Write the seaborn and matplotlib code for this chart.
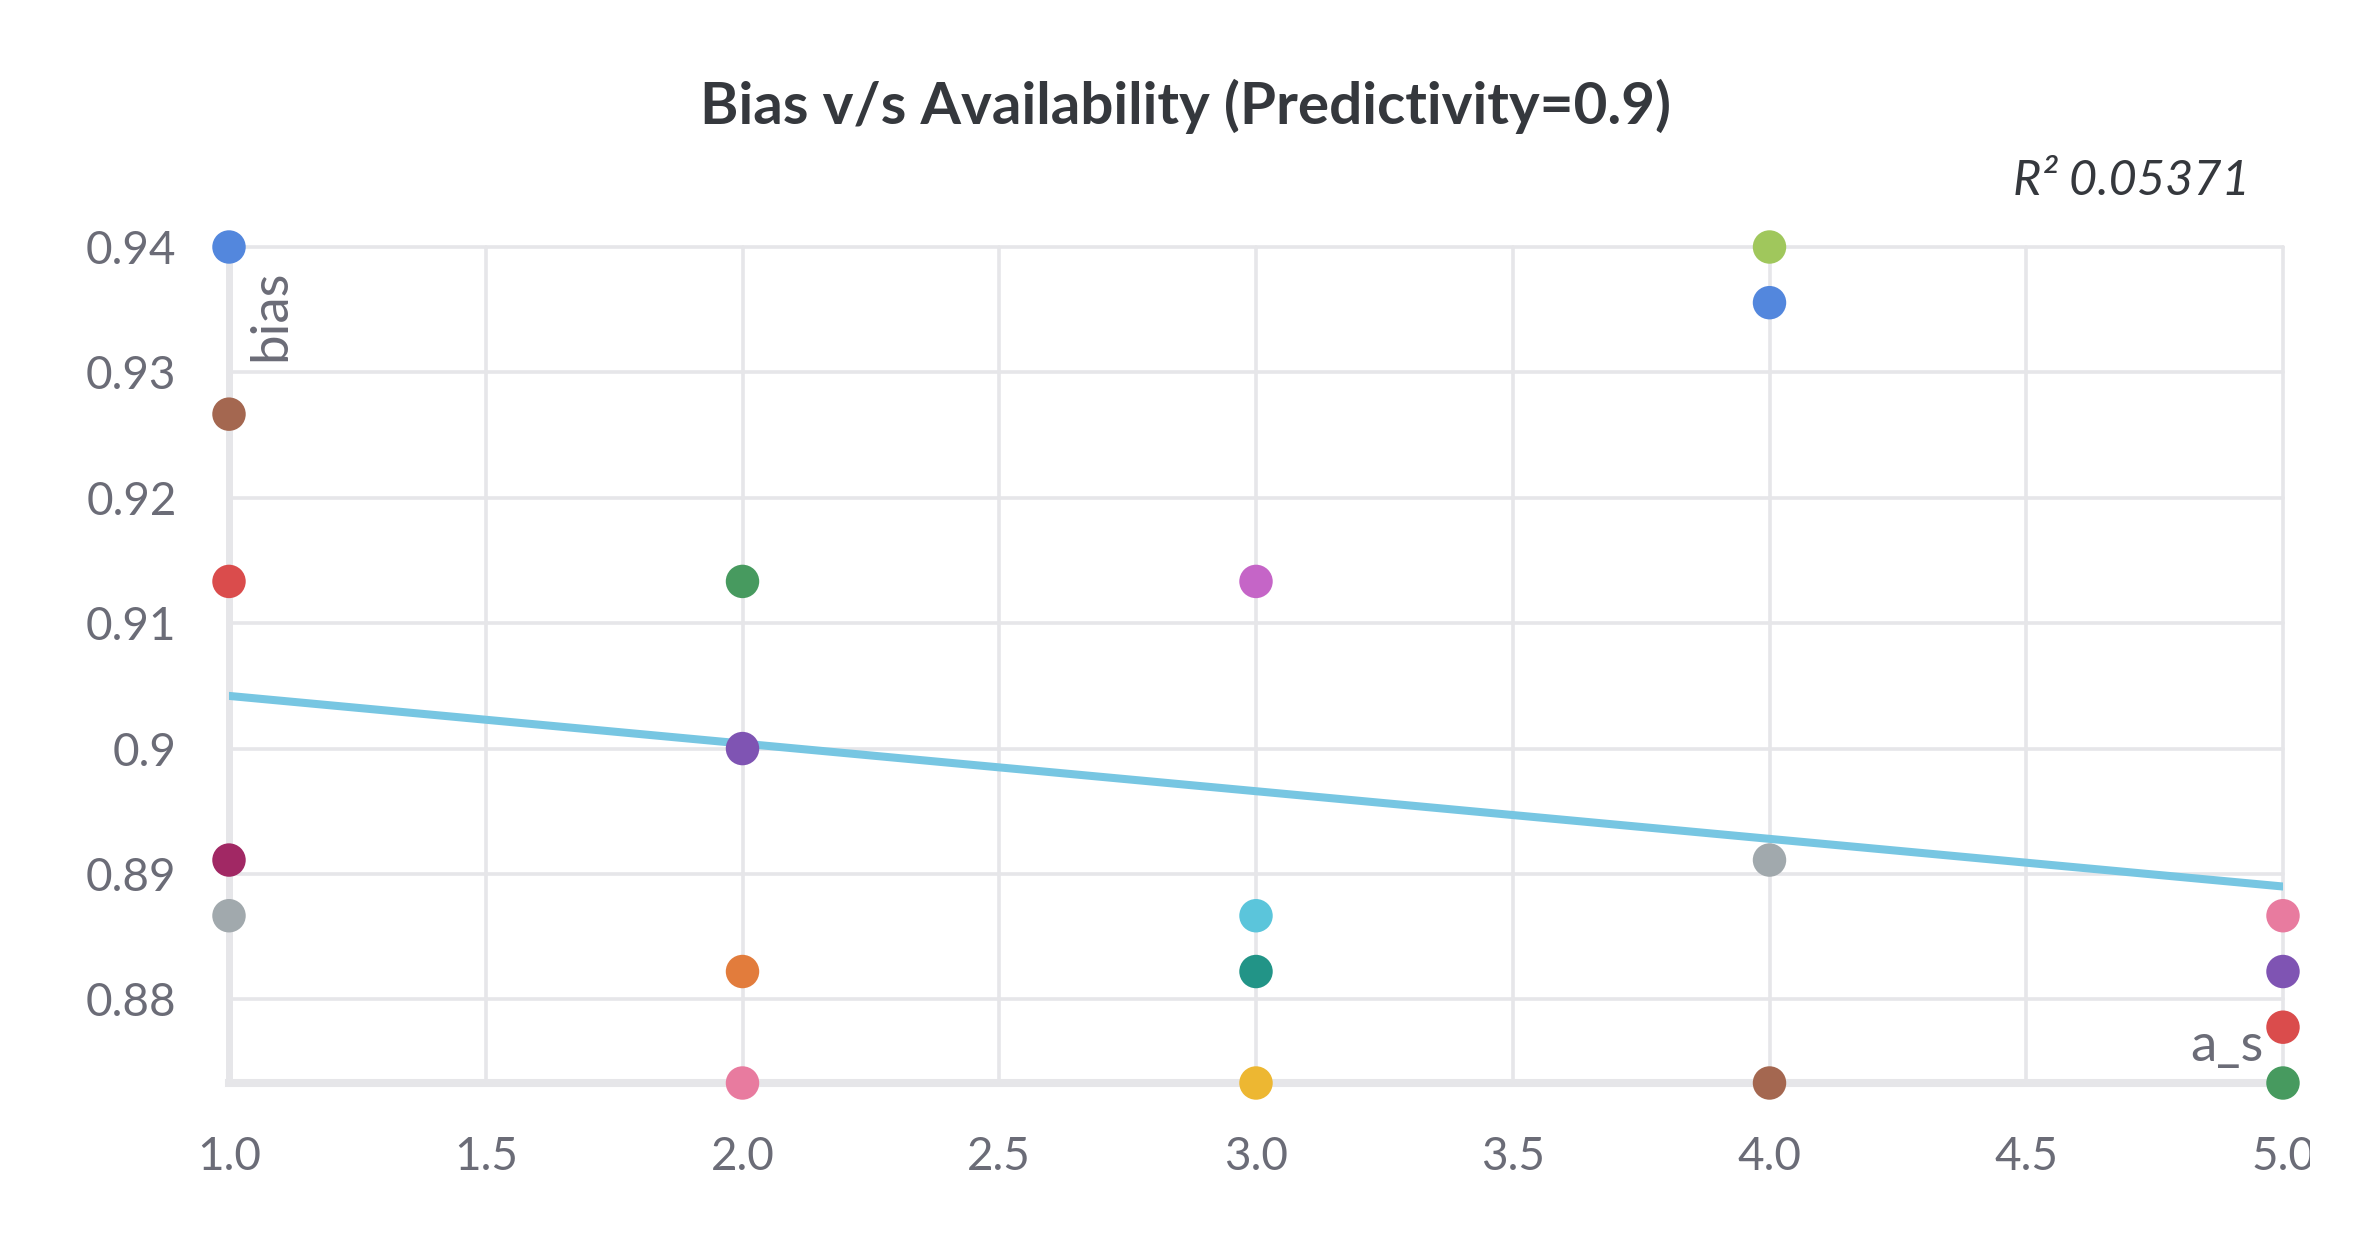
import numpy as np
import pandas as pd
import seaborn as sns
import matplotlib
matplotlib.use("Agg")
import matplotlib.pyplot as plt
from matplotlib.transforms import Bbox, TransformedBbox

# ---------------- data ----------------
a_s = [1, 1, 1, 1, 1,
       2, 2, 2, 2,
       3, 3, 3, 3,
       4, 4, 4, 4,
       5, 5, 5, 5]
bias = [0.94, 0.92667, 0.91333, 0.89111, 0.88667,
        0.91333, 0.90, 0.88222, 0.87333,
        0.91333, 0.88667, 0.88222, 0.87333,
        0.94, 0.93556, 0.89111, 0.87333,
        0.88667, 0.88222, 0.87778, 0.87333]
run_colors = ["#5387dd", "#a46750", "#da4c4c", "#a12864", "#a1a9ad",
              "#479a5f", "#7f54b3", "#e27c3c", "#e87b9f",
              "#c565c7", "#5bc5db", "#229487", "#edb732",
              "#a0c75c", "#5387dd", "#a1a9ad", "#a46750",
              "#e87b9f", "#7f54b3", "#da4c4c", "#479a5f"]
runs = [f"run {i + 1}" for i in range(len(a_s))]

trend_x = [1.0, 5.0]
trend_y = [0.9042, 0.8890]
r_squared = "0.05371"

x_ticks = [1.0, 1.5, 2.0, 2.5, 3.0, 3.5, 4.0, 4.5, 5.0]
x_tick_labels = ["1.0", "1.5", "2.0", "2.5", "3.0", "3.5", "4.0", "4.5", "5.0"]
y_ticks = [0.88, 0.89, 0.90, 0.91, 0.92, 0.93, 0.94]
y_tick_labels = ["0.88", "0.89", "0.9", "0.91", "0.92", "0.93", "0.94"]

title = "Bias v/s Availability (Predictivity=0.9)"
x_label = "a_s"
y_label = "bias"

df = pd.DataFrame({"a_s": a_s, "bias": bias, "run": runs})
trend = pd.DataFrame({"a_s": trend_x, "bias": trend_y})

# ---------------- style ----------------
sns.set_theme(style="white")
plt.rcParams["font.family"] = ["Lato", "DejaVu Sans"]

GRID = "#e6e6e9"
TICK_TXT = "#6b6c77"
DARK = "#35383d"

W, H = 2370, 1245
fig = plt.figure(figsize=(W / 100, H / 100), dpi=100)
ax = fig.add_axes([229 / W, 1 - 1083 / H, (2283 - 229) / W, (1083 - 247) / H])

sns.lineplot(data=trend, x="a_s", y="bias", ax=ax, color="#77c6e2",
             linewidth=5.8, zorder=2)
sns.scatterplot(data=df, x="a_s", y="bias", hue="run",
                palette=dict(zip(runs, run_colors)), legend=False,
                s=580, linewidth=0, ax=ax, zorder=3, clip_on=False)

ax.set_xlim(1.0, 5.0)
ax.set_ylim(min(bias), max(bias))
ax.set_xticks(x_ticks)
ax.set_xticklabels(x_tick_labels)
ax.set_yticks(y_ticks)
ax.set_yticklabels(y_tick_labels)
ax.set_xlabel("")
ax.set_ylabel("")

ax.set_axisbelow(True)
ax.grid(True, color=GRID, linewidth=2.6)
for gl in ax.get_xgridlines() + ax.get_ygridlines():
    gl.set_clip_on(False)
ax.tick_params(axis="both", length=15.8, width=2.6, color=GRID,
               labelcolor=TICK_TXT, labelsize=33, pad=22)

for side in ["top", "right"]:
    ax.spines[side].set_visible(False)
ax.spines["bottom"].set_color(GRID)
ax.spines["bottom"].set_linewidth(5.8)
ax.spines["left"].set_color(GRID)
ax.spines["left"].set_linewidth(5.0)
ax.spines["left"].set_zorder(0.5)
ax.spines["bottom"].set_zorder(0.5)

# clip the last x tick label like the reference
clip = TransformedBbox(Bbox([[0, 0], [2310 / W, 1]]), fig.transFigure)
for t in ax.xaxis.get_major_ticks():
    t.label1.set_clip_on(True)
    t.label1.set_clip_box(clip)

fig.text(0.5, 1 - 124 / H, title, ha="center", va="baseline",
         fontsize=42, fontweight="bold", color=DARK)
fig.text(2250 / W, 1 - 195 / H, "R\u00b2 " + r_squared, ha="right",
         va="baseline", fontsize=35, fontstyle="italic", color=DARK)
fig.text(271 / W, 1 - 270 / H, y_label, rotation=90, ha="center", va="top",
         fontsize=38, color=TICK_TXT)
fig.text(2263 / W, 1 - 1061 / H, x_label, ha="right", va="baseline",
         fontsize=38, color=TICK_TXT)

fig.savefig("out.png", dpi=100, facecolor="white")
